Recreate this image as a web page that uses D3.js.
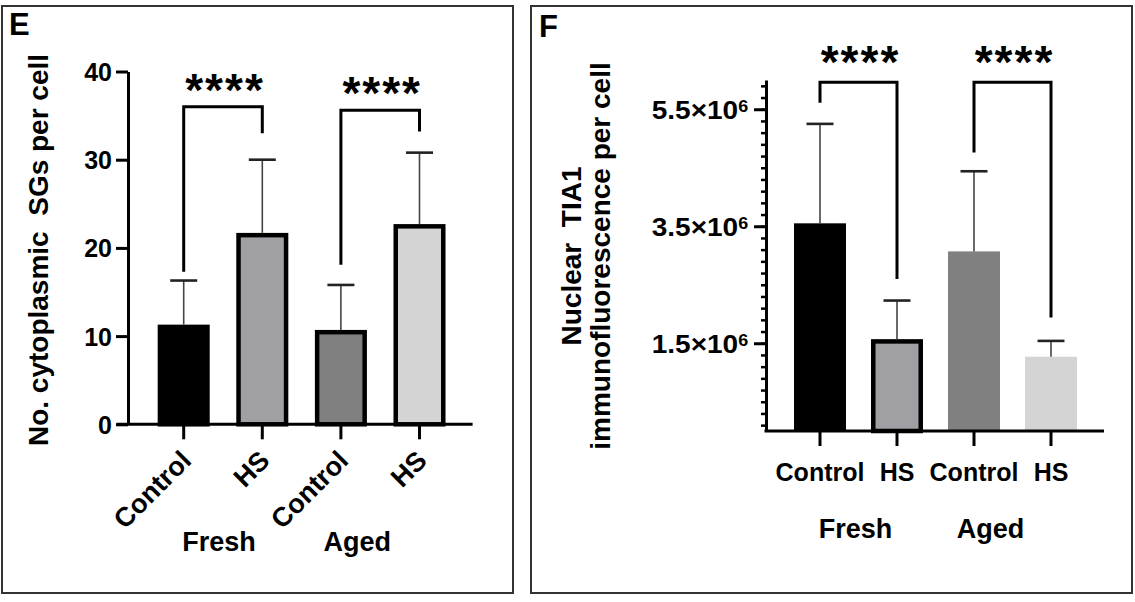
<!DOCTYPE html>
<html>
<head>
<meta charset="utf-8">
<script src="https://cdn.jsdelivr.net/npm/d3@7"></script>
<style>
  body { margin: 0; background: #fff; }
  svg text { font-family: "Liberation Sans", Arial, sans-serif; fill: #000; }
</style>
</head>
<body>
<svg id="chart" width="1135" height="602"></svg>
<script>
// categories
const groups = ["Fresh", "Aged"]
const categories = ["Control", "HS", "Control", "HS"]
const barColors = ["#000000", "#a0a0a4", "#808080", "#d4d4d4"]

// panel E: cytoplasmic SGs per cell
const sgMeans = [11.3, 21.7, 10.7, 22.7]
const sgSD = [5.0, 8.3, 5.1, 8.1]
const sgTicks = [0, 10, 20, 30, 40]
const sgBracketTop = [36.0, 35.6]
const sgBracketLeft = [17.3, 18.1]
const sgBracketRight = [33.0, 33.2]

// panel F: nuclear TIA1 immunofluorescence per cell
const tiaMeans = [3.55e6, 1.57e6, 3.07e6, 1.27e6]
const tiaSD = [1.70e6, 0.66e6, 1.37e6, 0.27e6]
const tiaTicks = [1.5e6, 3.5e6, 5.5e6]
const tiaTickLabels = ["1.5×10", "3.5×10", "5.5×10"]
const tiaBracketTop = [5.96e6, 5.96e6]
const tiaBracketLeft = [5.61e6, 4.76e6]
const tiaBracketRight = [2.60e6, 1.94e6]

const stars = ["****", "****"]

const svg = d3.select("#chart")

// panel frames
svg.append("rect").attr("x", 2).attr("y", 6).attr("width", 511).attr("height", 587)
  .attr("fill", "none").attr("stroke", "#333").attr("stroke-width", 2)
svg.append("rect").attr("x", 531).attr("y", 6).attr("width", 601).attr("height", 587)
  .attr("fill", "none").attr("stroke", "#333").attr("stroke-width", 2)

svg.append("text").text("E").attr("x", 9).attr("y", 35)
  .style("font-size", "31px").style("font-weight", "bold")
svg.append("text").text("F").attr("x", 539).attr("y", 37)
  .style("font-size", "31px").style("font-weight", "bold")

function errorBars(g, x, y, means, sd) {
  const idx = d3.range(means.length)
  g.selectAll(".err").data(idx).join("line")
    .attr("x1", i => x(i) + x.bandwidth() / 2).attr("x2", i => x(i) + x.bandwidth() / 2)
    .attr("y1", i => y(means[i])).attr("y2", i => y(means[i] + sd[i]))
    .attr("stroke", "#444").attr("stroke-width", 1.6)
  g.selectAll(".cap").data(idx).join("line")
    .attr("x1", i => x(i) + x.bandwidth() / 2 - 13.5).attr("x2", i => x(i) + x.bandwidth() / 2 + 13.5)
    .attr("y1", i => y(means[i] + sd[i])).attr("y2", i => y(means[i] + sd[i]))
    .attr("stroke", "#222").attr("stroke-width", 2.6)
}

function brackets(g, x, y, top, left, right, starY) {
  d3.range(top.length).forEach(k => {
    const a = x(2 * k) + x.bandwidth() / 2
    const b = x(2 * k + 1) + x.bandwidth() / 2
    g.append("path")
      .attr("d", d3.line()([[a, y(left[k])], [a, y(top[k])], [b, y(top[k])], [b, y(right[k])]]))
      .attr("fill", "none").attr("stroke", "#000").attr("stroke-width", 3)
    g.append("text").text(stars[k])
      .attr("x", (a + b) / 2 + 2).attr("y", y(top[k]) + starY)
      .attr("text-anchor", "middle")
      .style("font-size", "46px").style("font-weight", "bold").style("letter-spacing", "2px")
  })
}

// ---------- panel E ----------
{
  const g = svg.append("g")
  const x = d3.scaleBand().domain(d3.range(4)).range([144.4, 458.8])
    .paddingInner(0.338).paddingOuter(0.169)
  const y = d3.scaleLinear().domain([0, 40]).range([424.3, 71.5])

  g.selectAll(".bar").data(sgMeans).join("rect")
    .attr("x", (d, i) => x(i) + 2.25).attr("width", x.bandwidth() - 4.5)
    .attr("y", d => y(d) + 2.25).attr("height", d => y(0) - y(d) - 2.25)
    .attr("fill", (d, i) => barColors[i])
    .attr("stroke", "#000").attr("stroke-width", 4.5)

  errorBars(g, x, y, sgMeans, sgSD)

  const yAxis = g.append("g").attr("transform", "translate(128,0)")
    .call(d3.axisLeft(y).tickValues(sgTicks).tickSize(12).tickSizeOuter(0).tickPadding(4))
  yAxis.select(".domain").attr("stroke-width", 3)
  yAxis.selectAll(".tick line").attr("stroke-width", 3)
  yAxis.selectAll(".tick text").style("font-size", "25px").style("font-weight", "bold")
    .attr("dy", "0.36em")

  g.append("line").attr("x1", 116.5).attr("x2", 472.6).attr("y1", y(0)).attr("y2", y(0))
    .attr("stroke", "#000").attr("stroke-width", 3)
  const xAxis = g.append("g").attr("transform", `translate(0,${y(0)})`)
    .call(d3.axisBottom(x).tickSize(15).tickFormat(i => categories[i]))
  xAxis.select(".domain").remove()
  xAxis.selectAll(".tick line").attr("stroke-width", 3)
  xAxis.selectAll(".tick text")
    .attr("text-anchor", "end").attr("dy", null)
    .attr("transform", "translate(9,38) rotate(-45)")
    .attr("y", 0).attr("x", 0)
    .style("font-size", "27px").style("font-weight", "bold")

  groups.forEach((name, k) => {
    const mid = (x(2 * k) + x(2 * k + 1) + x.bandwidth()) / 2
    g.append("text").text(name).attr("x", mid + (k === 0 ? -4 : -23)).attr("y", 551)
      .attr("text-anchor", "middle").style("font-size", "27px").style("font-weight", "bold")
  })

  g.append("text").text("No. cytoplasmic  SGs per cell")
    .attr("transform", "translate(48,250) rotate(-90)")
    .attr("text-anchor", "middle").style("white-space", "pre")
    .style("font-size", "28px").style("font-weight", "bold")

  brackets(g, x, y, sgBracketTop, sgBracketLeft, sgBracketRight, -1)
}

// ---------- panel F ----------
{
  const g = svg.append("g")
  const x = d3.scaleBand().domain(d3.range(4)).range([781.5, 1089.5])
    .paddingInner(0.325).paddingOuter(0.1625)
  const y = d3.scaleLinear().domain([0, 6e6]).range([431, 80])

  g.selectAll(".bar").data(tiaMeans).join("rect")
    .attr("x", (d, i) => x(i) + (i === 1 ? 2.25 : 0))
    .attr("width", (d, i) => x.bandwidth() - (i === 1 ? 4.5 : 0))
    .attr("y", (d, i) => y(d) + (i === 1 ? 2.25 : 0))
    .attr("height", (d, i) => y(0) - y(d) - (i === 1 ? 2.25 : 0))
    .attr("fill", (d, i) => barColors[i])
    .attr("stroke", (d, i) => i === 1 ? "#000" : "none").attr("stroke-width", 4.5)

  errorBars(g, x, y, tiaMeans, tiaSD)

  const minor = d3.range(30).map(k => 0.1e6 + k * 0.2e6)
  const yMinor = g.append("g").attr("transform", "translate(766,0)")
    .call(d3.axisLeft(y).tickValues(minor).tickSize(5).tickSizeOuter(0).tickFormat(""))
  yMinor.selectAll(".tick line").attr("stroke-width", 2.5)
  const yAxis = g.append("g").attr("transform", "translate(766,0)")
    .call(d3.axisLeft(y).tickValues(tiaTicks).tickSize(12).tickSizeOuter(0).tickPadding(4)
      .tickFormat((d, i) => tiaTickLabels[i]))
  yAxis.select(".domain").attr("stroke-width", 3)
  yMinor.select(".domain").remove()
  yAxis.selectAll(".tick line").attr("stroke-width", 3)
  yAxis.selectAll(".tick text").text(null)
    .attr("transform", "scale(1.12,1)")
    .style("font-size", "25px").style("font-weight", "bold").attr("dy", "0.36em")
    .each(function (d, i) {
      const t = d3.select(this)
      t.append("tspan").text(tiaTickLabels[i])
      t.append("tspan").text("6").attr("dy", "-0.45em").style("font-size", "16px")
    })

  g.append("line").attr("x1", 764.5).attr("x2", 1104).attr("y1", y(0)).attr("y2", y(0))
    .attr("stroke", "#000").attr("stroke-width", 3)
  const xAxis = g.append("g").attr("transform", `translate(0,${y(0)})`)
    .call(d3.axisBottom(x).tickSize(15).tickPadding(17).tickFormat(i => categories[i]))
  xAxis.select(".domain").remove()
  xAxis.selectAll(".tick line").attr("stroke-width", 3)
  xAxis.selectAll(".tick text").style("font-size", "25px").style("font-weight", "bold")

  groups.forEach((name, k) => {
    const mid = (x(2 * k) + x(2 * k + 1) + x.bandwidth()) / 2
    g.append("text").text(name).attr("x", mid + (k === 0 ? -3 : -22)).attr("y", 538)
      .attr("text-anchor", "middle").style("font-size", "27px").style("font-weight", "bold")
  })

  const title = g.append("text").attr("transform", "translate(0,256) rotate(-90)")
    .attr("text-anchor", "middle").style("font-size", "28px").style("font-weight", "bold")
    .style("white-space", "pre")
  title.append("tspan").text("Nuclear  TIA1").attr("x", 0).attr("y", 581)
  title.append("tspan").text("immunofluorescence per cell").attr("x", 0).attr("y", 610)

  brackets(g, x, y, tiaBracketTop, tiaBracketLeft, tiaBracketRight, -4)
}
</script>
</body>
</html>
